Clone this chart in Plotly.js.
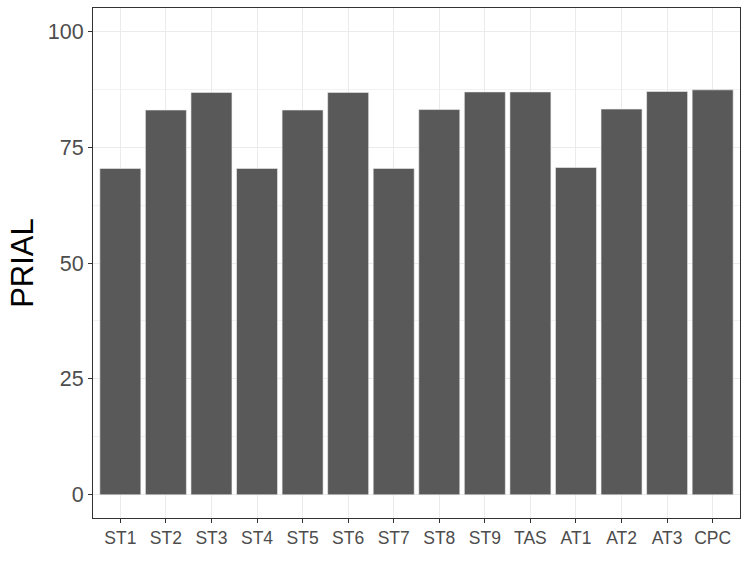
<!DOCTYPE html>
<html>
<head>
<meta charset="utf-8">
<script src="https://cdn.plot.ly/plotly-3.0.1.min.js"></script>
<style>html,body{margin:0;padding:0;background:#fff;}#chart{width:747px;height:580px;}</style>
</head>
<body>
<div id="chart"></div>
<script>
const categories = ["ST1","ST2","ST3","ST4","ST5","ST6","ST7","ST8","ST9","TAS","AT1","AT2","AT3","CPC"];
const prial = [70.4, 83.0, 86.8, 70.4, 83.0, 86.8, 70.4, 83.1, 86.9, 86.9, 70.6, 83.2, 87.0, 87.35];
const yTicks = [0, 25, 50, 75, 100];

const trace = {
  type: 'bar',
  x: categories,
  y: prial,
  marker: {color: '#595959', line: {color: '#f0f0f0', width: 0.6}},
  width: 0.9,
  hoverinfo: 'x+y'
};

const layout = {
  width: 747, height: 580,
  margin: {l: 93, r: 7, t: 8, b: 62},
  paper_bgcolor: '#ffffff',
  plot_bgcolor: '#ffffff',
  showlegend: false,
  font: {family: 'Liberation Sans, Arial, sans-serif'},
  xaxis: {
    type: 'category',
    range: [-0.6, 13.6],
    showgrid: true, gridcolor: '#ebebeb', gridwidth: 1,
    ticks: 'outside', ticklen: 4, tickcolor: '#333333', tickwidth: 1,
    tickfont: {size: 17.5, color: '#4d4d4d'},
    showline: true, linecolor: '#333333', linewidth: 1, mirror: true,
    zeroline: false
  },
  yaxis: {
    range: [-5, 105],
    tickvals: yTicks,
    ticktext: yTicks.map(String),
    showgrid: true, gridcolor: '#ebebeb', gridwidth: 1,
    minor: {tick0: 12.5, dtick: 25, showgrid: true, gridcolor: '#f2f2f2', gridwidth: 1, ticks: ''},
    ticks: 'outside', ticklen: 4, tickcolor: '#333333', tickwidth: 1,
    tickfont: {size: 21.5, color: '#4d4d4d'},
    showline: true, linecolor: '#333333', linewidth: 1, mirror: true,
    zeroline: false,
    title: {text: 'PRIAL', font: {size: 31, color: '#000000'}, standoff: 4}
  },
  bargap: 0.1
};

Plotly.newPlot('chart', [trace], layout, {displayModeBar: false, staticPlot: true});
</script>
</body>
</html>
